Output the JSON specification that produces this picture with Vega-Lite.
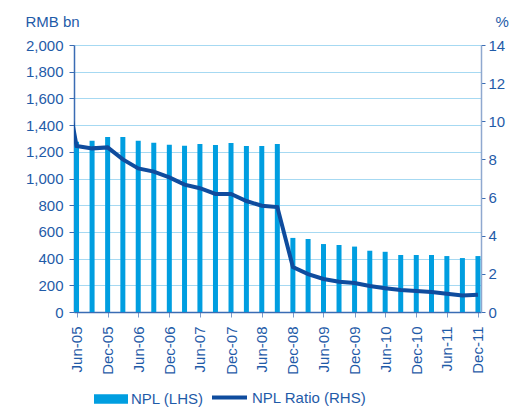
{
  "$schema": "https://vega.github.io/schema/vega-lite/v6.json",
  "width": 407,
  "height": 267,
  "autosize": {"type": "none"},
  "padding": {"left": 74, "top": 45, "right": 43, "bottom": 95},
  "config": {
    "font": "Liberation Sans",
    "view": {"stroke": null},
    "axis": {"labelFont": "Liberation Sans", "titleFont": "Liberation Sans", "labelFontSize": 15, "titleFontSize": 15, "titleFontWeight": "normal", "labelColor": "#1f5ba8", "titleColor": "#1f5ba8"},
    "legend": {"labelFont": "Liberation Sans", "labelFontSize": 15, "labelColor": "#1f5ba8"}
  },
  "data": {
    "values": [
      {"q": "2005-03-31", "npl": null, "ratio": 13.2},
      {"q": "2005-06-30", "npl": 1275, "ratio": 8.71},
      {"q": "2005-09-30", "npl": 1283, "ratio": 8.58},
      {"q": "2005-12-31", "npl": 1311, "ratio": 8.63},
      {"q": "2006-03-31", "npl": 1311, "ratio": 8.0},
      {"q": "2006-06-30", "npl": 1283, "ratio": 7.53},
      {"q": "2006-09-30", "npl": 1268, "ratio": 7.36},
      {"q": "2006-12-31", "npl": 1253, "ratio": 7.06},
      {"q": "2007-03-31", "npl": 1245, "ratio": 6.68},
      {"q": "2007-06-30", "npl": 1258, "ratio": 6.49},
      {"q": "2007-09-30", "npl": 1251, "ratio": 6.19},
      {"q": "2007-12-31", "npl": 1266, "ratio": 6.19},
      {"q": "2008-03-31", "npl": 1243, "ratio": 5.82},
      {"q": "2008-06-30", "npl": 1243, "ratio": 5.57},
      {"q": "2008-09-30", "npl": 1258, "ratio": 5.5},
      {"q": "2008-12-31", "npl": 555, "ratio": 2.36},
      {"q": "2009-03-31", "npl": 547, "ratio": 1.99},
      {"q": "2009-06-30", "npl": 509, "ratio": 1.73},
      {"q": "2009-09-30", "npl": 502, "ratio": 1.59},
      {"q": "2009-12-31", "npl": 490, "ratio": 1.52},
      {"q": "2010-03-31", "npl": 459, "ratio": 1.36},
      {"q": "2010-06-30", "npl": 451, "ratio": 1.25},
      {"q": "2010-09-30", "npl": 427, "ratio": 1.15},
      {"q": "2010-12-31", "npl": 427, "ratio": 1.1},
      {"q": "2011-03-31", "npl": 427, "ratio": 1.05},
      {"q": "2011-06-30", "npl": 419, "ratio": 0.96},
      {"q": "2011-09-30", "npl": 404, "ratio": 0.86},
      {"q": "2011-12-31", "npl": 419, "ratio": 0.91}
    ]
  },
  "encoding": {
    "x": {
      "field": "q",
      "type": "temporal",
      "scale": {"type": "utc", "padding": 0, "nice": false, "domain": [{"year": 2005, "month": 6, "date": 15, "utc": true}, {"year": 2012, "month": 1, "date": 18, "utc": true}]},
      "axis": {
        "title": null,
        "grid": false,
        "values": [
          {"year": 2005, "month": 6, "date": 30, "utc": true},
          {"year": 2005, "month": 12, "date": 31, "utc": true},
          {"year": 2006, "month": 6, "date": 30, "utc": true},
          {"year": 2006, "month": 12, "date": 31, "utc": true},
          {"year": 2007, "month": 6, "date": 30, "utc": true},
          {"year": 2007, "month": 12, "date": 31, "utc": true},
          {"year": 2008, "month": 6, "date": 30, "utc": true},
          {"year": 2008, "month": 12, "date": 31, "utc": true},
          {"year": 2009, "month": 6, "date": 30, "utc": true},
          {"year": 2009, "month": 12, "date": 31, "utc": true},
          {"year": 2010, "month": 6, "date": 30, "utc": true},
          {"year": 2010, "month": 12, "date": 31, "utc": true},
          {"year": 2011, "month": 6, "date": 30, "utc": true},
          {"year": 2011, "month": 12, "date": 31, "utc": true}
        ],
        "format": "%b-%y",
        "labelAngle": -90,
        "labelPadding": 9,
        "tickSize": 5,
        "tickColor": "#7b9bcb",
        "domainColor": "#3a6cb4",
        "domainWidth": 1.5,
        "labelOverlap": false
      }
    }
  },
  "layer": [
    {
      "mark": {"type": "bar", "width": 5, "clip": true},
      "encoding": {
        "y": {
          "field": "npl",
          "type": "quantitative",
          "scale": {"domain": [0, 2000]},
          "axis": {
            "orient": "left",
            "values": [0, 200, 400, 600, 800, 1000, 1200, 1400, 1600, 1800, 2000],
            "format": ",.0f",
            "grid": true,
            "gridColor": "#a6d9f2",
            "gridWidth": 1.2,
            "tickSize": 5,
            "tickColor": "#3a6cb4",
            "domainColor": "#3a6cb4",
            "domainWidth": 1.5,
            "labelPadding": 6,
            "title": "RMB bn",
            "titleAngle": 0,
            "titleAlign": "left",
            "titleBaseline": "alphabetic",
            "titleX": -49,
            "titleY": -19
          }
        },
        "fill": {
          "datum": "NPL (LHS)",
          "scale": {"range": ["#009ee0"]},
          "legend": {
            "title": null,
            "orient": "none",
            "legendX": 20,
            "legendY": 337,
            "symbolType": "M-1,-0.28H1V0.28H-1Z",
            "symbolSize": 1156,
            "symbolStrokeWidth": 0,
            "labelOffset": 3
          }
        }
      }
    },
    {
      "mark": {"type": "line", "clip": true, "strokeWidth": 4},
      "encoding": {
        "y": {
          "field": "ratio",
          "type": "quantitative",
          "scale": {"domain": [0, 14]},
          "axis": {
            "orient": "right",
            "values": [0, 2, 4, 6, 8, 10, 12, 14],
            "grid": false,
            "tickSize": 4,
            "tickColor": "#3a6cb4",
            "domainColor": "#8fa8cf",
            "domainWidth": 1.5,
            "labelPadding": 3,
            "title": "%",
            "titleAngle": 0,
            "titleAlign": "left",
            "titleBaseline": "alphabetic",
            "titleX": 14,
            "titleY": -19
          }
        },
        "stroke": {
          "datum": "NPL Ratio (RHS)",
          "scale": {"range": ["#0f4c9e"]},
          "legend": {
            "title": null,
            "orient": "none",
            "legendX": 136,
            "legendY": 333,
            "symbolType": "stroke",
            "symbolSize": 1225,
            "symbolStrokeWidth": 4,
            "labelOffset": 3
          }
        }
      }
    }
  ],
  "resolve": {"scale": {"y": "independent"}}
}
